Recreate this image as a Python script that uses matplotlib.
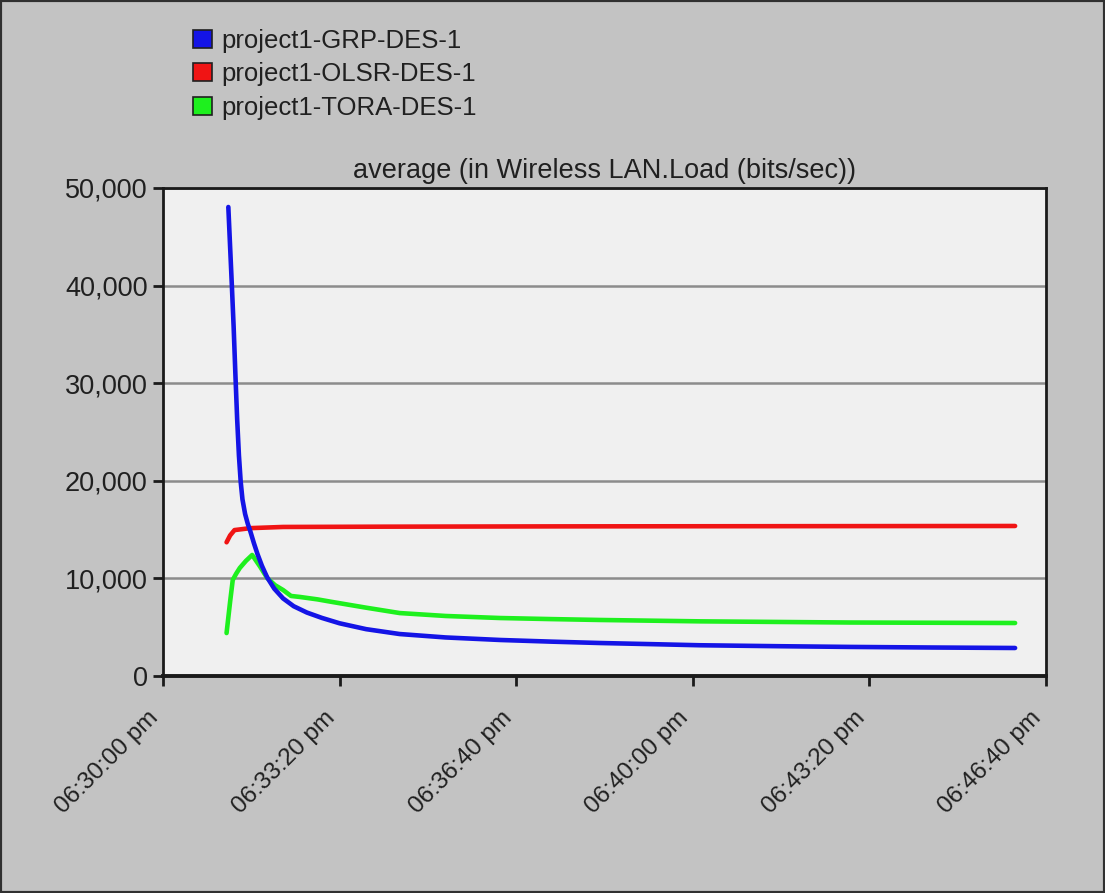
import matplotlib
matplotlib.use("Agg")
import matplotlib.pyplot as plt
from matplotlib.patches import Patch, Rectangle
from matplotlib.ticker import FuncFormatter, MultipleLocator

plt.rcParams["font.family"] = ["Liberation Sans", "DejaVu Sans"]

# seconds after 06:30:00 pm
grp_t = [74, 76, 78, 80, 82, 84, 86, 88, 90, 93, 96, 99, 103, 107, 112, 118, 126, 136,
         148, 163, 180, 200, 230, 268, 320, 382, 440, 495, 560, 608, 700, 778, 870, 965]
grp_v = [48050, 44000, 40000, 35800, 30900, 26300, 22600, 19900, 18100, 16600, 15600,
         14800, 13600, 12500, 11300, 10100, 8950, 7950, 7150, 6500, 5950, 5400, 4800,
         4300, 3950, 3690, 3520, 3380, 3250, 3150, 3050, 2980, 2920, 2870]

olsr_t = [72, 76, 81, 90, 99, 136, 250, 450, 700, 965]
olsr_v = [13700, 14400, 14950, 15050, 15150, 15270, 15300, 15330, 15350, 15370]

tora_t = [72, 76, 79, 83, 87, 94, 101, 110, 118, 127, 136, 145, 155, 175, 192, 230,
          268, 320, 382, 440, 495, 608, 778, 965]
tora_v = [4400, 7600, 9840, 10500, 11070, 11800, 12400, 11200, 10040, 9300, 8810,
          8200, 8100, 7850, 7580, 7000, 6450, 6150, 5940, 5830, 5740, 5600, 5480, 5430]

names = ["project1-GRP-DES-1", "project1-OLSR-DES-1", "project1-TORA-DES-1"]
colors = ["#1414e6", "#f01414", "#1ef01e"]
ticks = [0, 200, 400, 600, 800, 1000]


def clock(s, _pos=None):
    s = int(round(s)) + 30 * 60
    return f"06:{s // 60:02d}:{s % 60:02d} pm"


fig = plt.figure(figsize=(11.05, 8.93), dpi=100, facecolor="#c3c3c3")
ax = fig.add_axes([0.1475, 0.243, 0.7991, 0.5465], facecolor="#f0f0f0")

line_kw = dict(lw=3.3, solid_capstyle="round", solid_joinstyle="round")
ax.plot(olsr_t, olsr_v, color=colors[1], zorder=3, **line_kw)
ax.plot(tora_t, tora_v, color=colors[2], zorder=3, **line_kw)
ax.plot(grp_t, grp_v, color=colors[0], zorder=4, **line_kw)

ax.set_xlim(0, 1000)
ax.set_ylim(0, 50000)
ax.set_xticks(ticks)
ax.xaxis.set_major_formatter(FuncFormatter(clock))
ax.yaxis.set_major_locator(MultipleLocator(10000))
ax.yaxis.set_major_formatter(FuncFormatter(lambda v, p: f"{int(v):,}"))
ax.grid(axis="y", color="#8c8c8c", lw=1.8)
ax.set_axisbelow(True)

for side in ["left", "bottom", "top", "right"]:
    ax.spines[side].set_color("#1a1a1a")
    ax.spines[side].set_linewidth(2)
ax.spines["bottom"].set_linewidth(2.8)
ax.tick_params(axis="both", direction="out", length=7, width=2, color="#1a1a1a")
ax.tick_params(axis="y", labelsize=19.5, pad=4, labelcolor="#202020")
ax.tick_params(axis="x", labelsize=17.5, pad=15, labelcolor="#202020")
for lbl in ax.get_xticklabels():
    lbl.set_rotation(45)
    lbl.set_ha("right")
    lbl.set_va("top")

ax.set_title("average (in Wireless LAN.Load (bits/sec))", fontsize=19.5,
             color="#202020", pad=7)

handles = [Patch(facecolor=c, edgecolor="#202020", lw=1.2) for c in colors]
fig.legend(handles, names, loc="upper left", bbox_to_anchor=(0.1747, 0.968),
           frameon=False, fontsize=18.5, handlelength=0.75, handleheight=0.7,
           handletextpad=0.35, labelspacing=0.38, borderpad=0, borderaxespad=0,
           labelcolor="#202020")

fig.patches.append(Rectangle((0, 0), 1, 1, transform=fig.transFigure, fill=False,
                             edgecolor="#303030", lw=3))

fig.savefig("out.png", dpi=100, facecolor=fig.get_facecolor())
